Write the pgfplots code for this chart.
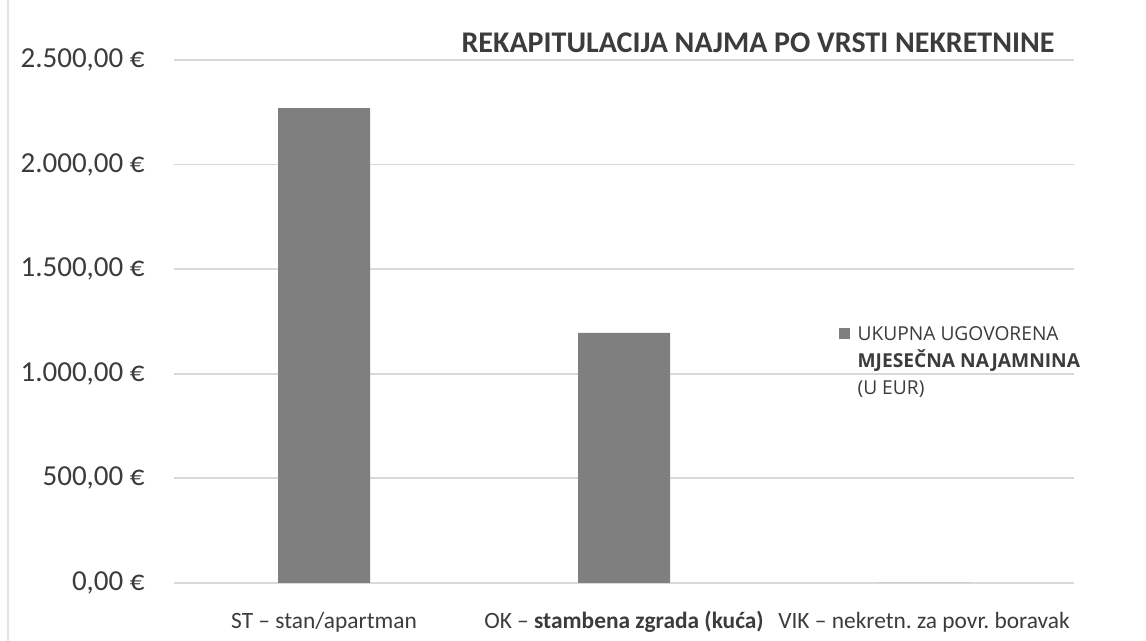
\documentclass[border=0pt]{standalone}
\usepackage{pgfplots}
\pgfplotsset{compat=1.18}
\usepackage{fontspec}
\setmainfont{Carlito}
\newfontfamily\legfont{Open Sans}
\frenchspacing

\definecolor{bargray}{RGB}{127,127,127}
\definecolor{gridgray}{RGB}{217,217,217}
\definecolor{txt}{RGB}{60,60,60}

\begin{document}
\begin{tikzpicture}[x=1pt,y=1pt]
\useasboundingbox (0,0) rectangle (573,320.5);
\fill[white] (0,0) rectangle (573,320.5);
\draw[gray!20, line width=0.6pt] (4,0) -- (4,320.5);
\begin{axis}[
    at={(87pt,29pt)}, anchor=south west,
    scale only axis, width=450pt, height=261.5pt,
    ybar, bar width=46pt,
    xmin=-0.5, xmax=2.5, ymin=0, ymax=2500,
    ytick={0,500,1000,1500,2000,2500},
    scaled y ticks=false,
    xtick={0,1,2},
    xticklabels={{ST -- stan/apartman},
                 {OK -- \textbf{stambena zgrada (kuća)}},
                 {VIK -- nekretn. za povr. boravak}},
    xticklabel style={font=\fontsize{11.7}{14}\selectfont, text=txt, inner sep=0pt, anchor=base, yshift=-18.5pt},
    /pgf/number format/.cd, fixed, fixed zerofill, precision=2, use comma, 1000 sep={.}, assume math mode=true,
    /pgfplots/.cd,
    yticklabel={\pgfmathprintnumber{\tick}~€},
    yticklabel style={font=\fontsize{14.5}{17}\selectfont, text=txt, inner sep=0pt, anchor=east, xshift=-14.5pt},
    axis line style={draw=none},
    tick style={draw=none},
    ymajorgrids, grid style={gridgray, line width=0.9pt},
    legend style={at={(0.738,0.491)}, anchor=north west, draw=none, fill=none, inner sep=0pt,
        font=\legfont\fontsize{9.6}{13.5}\selectfont, text=txt,
        nodes={align=left, inner sep=0pt}},
    legend image code/.code={\fill[bargray] (0pt,11.5pt) rectangle (5.5pt,17pt); \path (9.5pt,0pt);},
]
% ukupna ugovorena mjesecna najamnina (EUR) po vrsti nekretnine
\addplot[fill=bargray, draw=none] coordinates {(0,2270) (1,1195) (2,0)};
\addlegendentry{UKUPNA UGOVORENA\\\textbf{MJESEČNA NAJAMNINA}\\(U EUR)}
\end{axis}
\node[anchor=base, font=\fontsize{15}{18}\selectfont\bfseries, text=txt] at (379,294) {REKAPITULACIJA NAJMA PO VRSTI NEKRETNINE};
\end{tikzpicture}
\end{document}
